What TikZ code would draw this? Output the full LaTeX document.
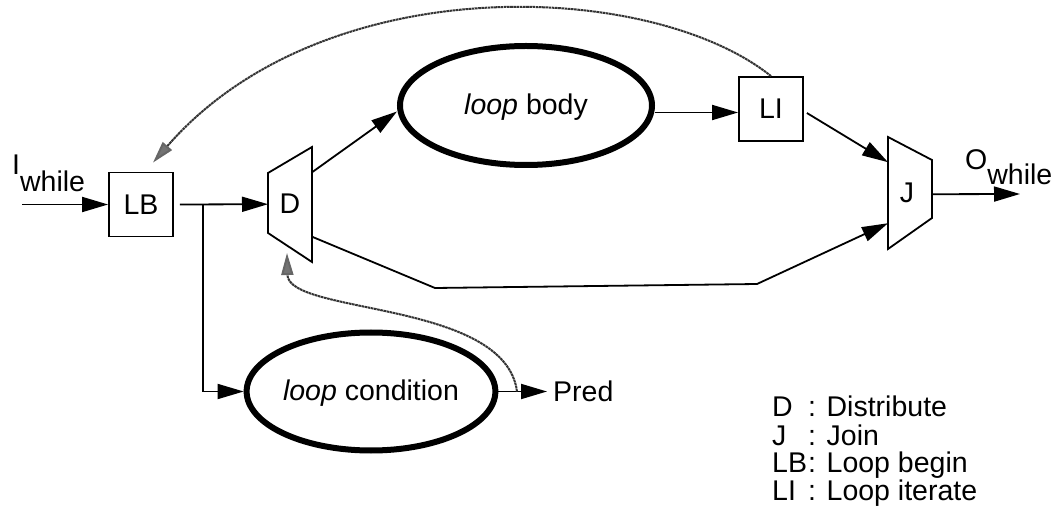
\documentclass[tikz,border=0pt]{standalone}
\usepackage{fontspec}
\setmainfont{Liberation Sans}
\usetikzlibrary{arrows.meta,shapes.geometric,calc}
\newcommand\keycol[1]{\makebox[36pt][l]{#1}}
\begin{document}
\begin{tikzpicture}[x=1pt,y=-1pt,
  every node/.style={font=\fontsize{28.5}{30}\selectfont, inner sep=0pt},
  box/.style={draw, line width=1.8pt, minimum width=64pt, minimum height=64pt},
  blob/.style={ellipse, draw, line width=6pt},
  unit/.style={draw, line width=1.8pt, line join=miter},
  arr/.style={line width=1.8pt, -{Triangle[length=26pt,width=15pt]}},
  fb/.style={line width=2pt, black!80, dash pattern=on 2.6pt off 0.6pt,
    -{Triangle[length=22pt,width=12pt,fill=black!55,color=black!60]}}]
\useasboundingbox (0,0) rectangle (1058,529);

% blocks
\node[box] (LB) at (141,204.5) {LB};
\node[box] (LI) at (771,109) {LI};
\node[blob, minimum width=252pt, minimum height=119pt, text depth=2pt] (body) at (526,105.5) {\textit{loop} body};
\node[blob, minimum width=212pt, minimum height=118pt, text depth=2pt] (cond) at (371,391.5) {\textit{loop} condition};

% distribute unit
\coordinate (D-nw) at (268,173);
\coordinate (D-ne) at (312,147);
\coordinate (D-se) at (312,262);
\coordinate (D-sw) at (268,233);
\draw[unit] (D-nw) -- (D-ne) -- (D-se) -- (D-sw) -- cycle;
\node (D) at (290,204) {D};

% join unit
\coordinate (J-nw) at (888,137);
\coordinate (J-ne) at (932,160);
\coordinate (J-se) at (932,218);
\coordinate (J-sw) at (888,249);
\draw[unit] (J-nw) -- (J-ne) -- (J-se) -- (J-sw) -- cycle;
\node (J) at (907,193) {J};

% outside labels
\node[anchor=base west] (Iw) at (12,175) {I\raisebox{-17pt}{while}};
\node[anchor=base west] (Ow) at (965,170) {O\raisebox{-15pt}{while}};
\node[anchor=west] (pred) at (553,391.5) {Pred};

% ports
\coordinate (inport) at (22,204.5);
\coordinate (LBout) at ($(LB.east)+(6,0)$);
\coordinate (fork) at (203,204.5);
\coordinate (Din) at ($(D-nw)!0.52!(D-sw)$);
\coordinate (Dup) at ($(D-ne)!0.22!(D-se)$);
\coordinate (Ddown) at ($(D-ne)!0.78!(D-se)$);
\coordinate (bodyin) at ($(body.west)+(0,6)$);
\coordinate (LIin) at ($(LI.west)+(0,3.5)$);
\coordinate (LIout) at ($(LI.east)+(3,4)$);
\coordinate (Jtop) at ($(J-nw)!0.225!(J-sw)$);
\coordinate (Jbot) at ($(J-nw)!0.77!(J-sw)$);
\coordinate (Jout) at ($(J-ne)!0.59!(J-se)$);
\coordinate (outport) at (1020,194);
\coordinate (bendA) at (435,288);
\coordinate (bendB) at (757,284);
\coordinate (predtap) at (517,391.5);
\coordinate (Dback) at (287,253);
\coordinate (LBback) at ($(LB.north)+(12,-9)$);

% data flow
\draw[arr] (inport) -- (LB.west);
\draw[arr] (LBout) -- (Din);
\draw[arr] (fork) |- (cond.west);
\draw[arr] (Dup) -- (bodyin);
\draw[arr] (body.east |- LIin) -- (LIin);
\draw[arr] (LIout) -- (Jtop);
\draw[arr] (Ddown) -- (bendA) -- (bendB) -- (Jbot);
\draw[arr] (Jout) -- (outport);
\draw[arr] (cond.east) -- ([xshift=-6pt]pred.west);

% control feedback
\draw[fb] (LI.north) .. controls (651,-20) and (323,-33) .. (LBback);
\draw[fb] (predtap) .. controls (505,300) and (288,315) .. (Dback);

% legend
\node[anchor=base west] (kD) at (772,417) {\keycol{D}: Distribute};
\node[anchor=base west] (kJ) at (772,445) {\keycol{J}: Join};
\node[anchor=base west] (kLB) at (772,472) {\keycol{LB}: Loop begin};
\node[anchor=base west] (kLI) at (772,500) {\keycol{LI}: Loop iterate};
\end{tikzpicture}
\end{document}
